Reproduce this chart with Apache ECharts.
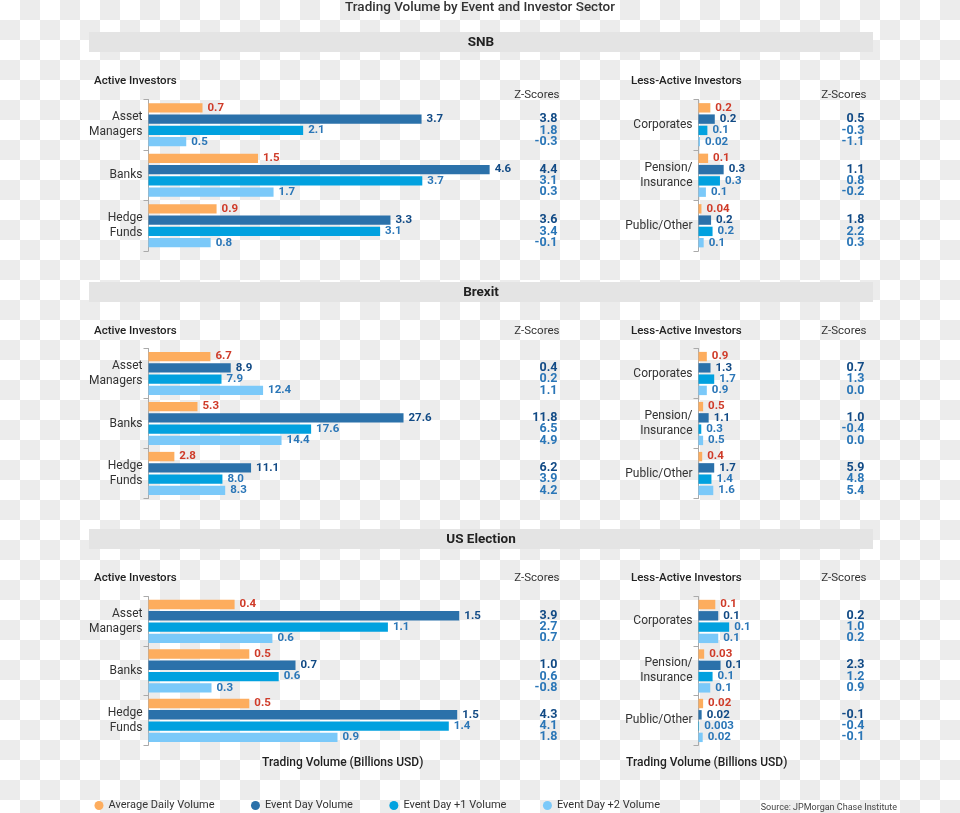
<!DOCTYPE html>
<html><head><meta charset="utf-8">
<script src="https://cdn.jsdelivr.net/npm/echarts@6/dist/echarts.min.js"></script>
<style>
html,body{margin:0;padding:0;}
body{width:960px;height:813px;background:repeating-conic-gradient(#ececec 0 25%, #ffffff 0 50%) 0 0/40px 40px;}
#chart{width:960px;height:813px;}
</style></head><body><div id="chart"></div>
<script>
// ---------- DATA ----------
const SERIES_NAMES = ['Average Daily Volume', 'Event Day Volume', 'Event Day +1 Volume', 'Event Day +2 Volume'];
const EVENTS = ['SNB', 'Brexit', 'US Election'];
const ACTIVE_SECTORS = ['Asset\nManagers', 'Banks', 'Hedge\nFunds'];
const LESS_ACTIVE_SECTORS = ['Corporates', 'Pension/\nInsurance', 'Public/Other'];

// rows: average daily, event day, event day +1, event day +2 ; columns: sectors
const snbActiveVolume = [[0.73, 1.48, 0.92], [3.69, 4.61, 3.27], [2.09, 3.70, 3.13], [0.51, 1.69, 0.84]];
const snbActiveLabels = [['0.7', '1.5', '0.9'], ['3.7', '4.6', '3.3'], ['2.1', '3.7', '3.1'], ['0.5', '1.7', '0.8']];
const snbActiveZ = [['3.8', '4.4', '3.6'], ['1.8', '3.1', '3.4'], ['-0.3', '0.3', '-0.1']];

const snbLessVolume = [[0.16, 0.13, 0.04], [0.22, 0.34, 0.17], [0.12, 0.29, 0.19], [0.02, 0.10, 0.07]];
const snbLessLabels = [['0.2', '0.1', '0.04'], ['0.2', '0.3', '0.2'], ['0.1', '0.3', '0.2'], ['0.02', '0.1', '0.1']];
const snbLessZ = [['0.5', '1.1', '1.8'], ['-0.3', '0.8', '2.2'], ['-1.1', '-0.2', '0.3']];

const brexitActiveVolume = [[6.7, 5.3, 2.8], [8.9, 27.6, 11.1], [7.9, 17.6, 8.0], [12.4, 14.4, 8.3]];
const brexitActiveLabels = [['6.7', '5.3', '2.8'], ['8.9', '27.6', '11.1'], ['7.9', '17.6', '8.0'], ['12.4', '14.4', '8.3']];
const brexitActiveZ = [['0.4', '11.8', '6.2'], ['0.2', '6.5', '3.9'], ['1.1', '4.9', '4.2']];

const brexitLessVolume = [[0.9, 0.5, 0.4], [1.3, 1.1, 1.7], [1.7, 0.3, 1.4], [0.9, 0.5, 1.6]];
const brexitLessLabels = [['0.9', '0.5', '0.4'], ['1.3', '1.1', '1.7'], ['1.7', '0.3', '1.4'], ['0.9', '0.5', '1.6']];
const brexitLessZ = [['0.7', '1.0', '5.9'], ['1.3', '-0.4', '4.8'], ['0.0', '0.0', '5.4']];

const usActiveVolume = [[0.41, 0.48, 0.48], [1.48, 0.70, 1.47], [1.14, 0.62, 1.43], [0.59, 0.30, 0.90]];
const usActiveLabels = [['0.4', '0.5', '0.5'], ['1.5', '0.7', '1.5'], ['1.1', '0.6', '1.4'], ['0.6', '0.3', '0.9']];
const usActiveZ = [['3.9', '1.0', '4.3'], ['2.7', '0.6', '4.1'], ['0.7', '-0.8', '1.8']];

const usLessVolume = [[0.08, 0.027, 0.022], [0.094, 0.105, 0.015], [0.146, 0.067, 0.003], [0.094, 0.056, 0.02]];
const usLessLabels = [['0.1', '0.03', '0.02'], ['0.1', '0.1', '0.02'], ['0.1', '0.1', '0.003'], ['0.1', '0.1', '0.02']];
const usLessZ = [['0.2', '2.3', '-0.1'], ['1.0', '1.2', '-0.4'], ['0.2', '0.9', '-0.1']];

// ---------- STYLE / LAYOUT ----------
const FONT = 'Roboto, "Noto Sans", "DejaVu Sans", sans-serif';
const BAR_COLORS = ['#fdad5e', '#2b71aa', '#01a1df', '#7bc9f9'];
const LABEL_COLORS = ['#cf3b29', '#114a85', '#2a76b7', '#2a76b7'];
const Z_COLORS = ['#114a85', '#2a76b7', '#2a76b7'];
const BW = 9.4, GAP = 0.2;

const ROWS = [ // per event: grid top, grid height, px per unit, title y, z header y, band y
  { top: 99.5, height: 151.5, ppu: 74, titleY: 80.7, zY: 95, bandY: 32 },
  { top: 348.5, height: 150, ppu: 9.24, titleY: 330.7, zY: 330.7, bandY: 282 },
  { top: 596.7, height: 148.5, ppu: 210, titleY: 578.3, zY: 578.3, bandY: 529 }
];
const COLS = [
  { left: 148.5, width: 409, titleX: 94, title: 'Active Investors', zX: 559.5, axisTitleX: 342.7, cats: ACTIVE_SECTORS },
  { left: 698.5, width: 166, titleX: 631, title: 'Less-Active Investors', zX: 866.5, axisTitleX: 706.7, cats: LESS_ACTIVE_SECTORS }
];
const PANELS = [
  [snbActiveVolume, snbActiveLabels, snbActiveZ], [snbLessVolume, snbLessLabels, snbLessZ],
  [brexitActiveVolume, brexitActiveLabels, brexitActiveZ], [brexitLessVolume, brexitLessLabels, brexitLessZ],
  [usActiveVolume, usActiveLabels, usActiveZ], [usLessVolume, usLessLabels, usLessZ]
];

const grid = [], xAxis = [], yAxis = [], series = [], graphic = [];

graphic.push({ type: 'text', x: 480, y: 7.5, style: { text: 'Trading Volume by Event and Investor Sector', font: '500 13.5px ' + FONT, fill: '#333', align: 'center', verticalAlign: 'middle' } });

ROWS.forEach((row, r) => {
  graphic.push({ type: 'rect', shape: { x: 89, y: row.bandY, width: 784, height: 20 }, style: { fill: '#e4e4e4' } });
  graphic.push({ type: 'text', x: 481, y: row.bandY + 10.5, style: { text: EVENTS[r], font: 'bold 13.5px ' + FONT, fill: '#222', align: 'center', verticalAlign: 'middle' } });
  COLS.forEach((col, c) => {
    const g = r * 2 + c;
    const [vol, lab, z] = PANELS[g];
    graphic.push({ type: 'text', x: col.titleX, y: row.titleY, style: { text: col.title, font: '500 11.5px ' + FONT, fill: '#222', align: 'left', verticalAlign: 'middle' } });
    graphic.push({ type: 'text', x: col.zX, y: row.zY, style: { text: 'Z-Scores', font: '11.5px ' + FONT, fill: '#333', align: 'right', verticalAlign: 'middle' } });
    grid.push({ left: col.left, top: row.top, width: col.width, height: row.height });
    xAxis.push({ gridIndex: g, type: 'value', min: 0, max: col.width / row.ppu, show: false });
    yAxis.push({
      gridIndex: g, type: 'category', inverse: true, data: col.cats,
      axisLine: { show: true, lineStyle: { color: '#aaa', width: 1 } },
      axisTick: { show: true, length: 5, lineStyle: { color: '#aaa' } },
      axisLabel: { margin: 6, fontSize: 12, color: '#333', lineHeight: 15, fontFamily: FONT },
      splitLine: { show: false }
    });
    vol.forEach((vals, s) => {
      series.push({
        type: 'bar', name: SERIES_NAMES[s], xAxisIndex: g, yAxisIndex: g,
        data: vals, barWidth: BW, barGap: (GAP * 100) + '%',
        itemStyle: { color: BAR_COLORS[s] },
        label: {
          show: true, position: 'right', distance: 5, fontSize: 11.5, fontWeight: 'bold', fontFamily: FONT,
          color: LABEL_COLORS[s], formatter: (p) => lab[s][p.dataIndex]
        },
        emphasis: { disabled: true }, silent: true
      });
    });
    const zData = [], zText = [];
    z.forEach((zr, k) => zr.forEach((t, ci) => { zData.push([0, ci, k + 1]); zText.push(t); }));
    series.push({
      type: 'custom', xAxisIndex: g, yAxisIndex: g, silent: true,
      encode: { x: 0, y: 1 }, data: zData,
      renderItem: function (params, api) {
        const ci = api.value(1), k = api.value(2);
        const center = api.coord([0, ci]);
        const cs = params.coordSys;
        const total = 4 * BW + 3 * BW * GAP;
        const y = center[1] - total / 2 + k * BW * (1 + GAP) + BW / 2;
        return {
          type: 'text', x: cs.x + cs.width, y: y,
          style: { text: zText[params.dataIndex], font: 'bold 12.5px ' + FONT, fill: Z_COLORS[k - 1], align: 'right', verticalAlign: 'middle' }
        };
      }
    });
  });
});

COLS.forEach(col => {
  graphic.push({ type: 'text', x: col.axisTitleX, y: 762.5, style: { text: 'Trading Volume (Billions USD)', font: '500 12px ' + FONT, fill: '#222', align: 'center', verticalAlign: 'middle' } });
});
graphic.push({ type: 'text', x: 897, y: 807.5, style: { text: 'Source: JPMorgan Chase Institute', font: '9px ' + FONT, fill: '#444', align: 'right', verticalAlign: 'middle' } });

const chart = echarts.init(document.getElementById('chart'), null, { renderer: 'canvas' });
chart.setOption({
  animation: false,
  backgroundColor: 'transparent',
  textStyle: { fontFamily: FONT },
  legend: {
    data: SERIES_NAMES, left: 94.5, top: 800, itemGap: 36.5, itemWidth: 9, itemHeight: 9, icon: 'circle', padding: 0,
    textStyle: { fontSize: 11, color: '#333', fontFamily: FONT }, selectedMode: false
  },
  grid, xAxis, yAxis, series, graphic
});
</script></body></html>
